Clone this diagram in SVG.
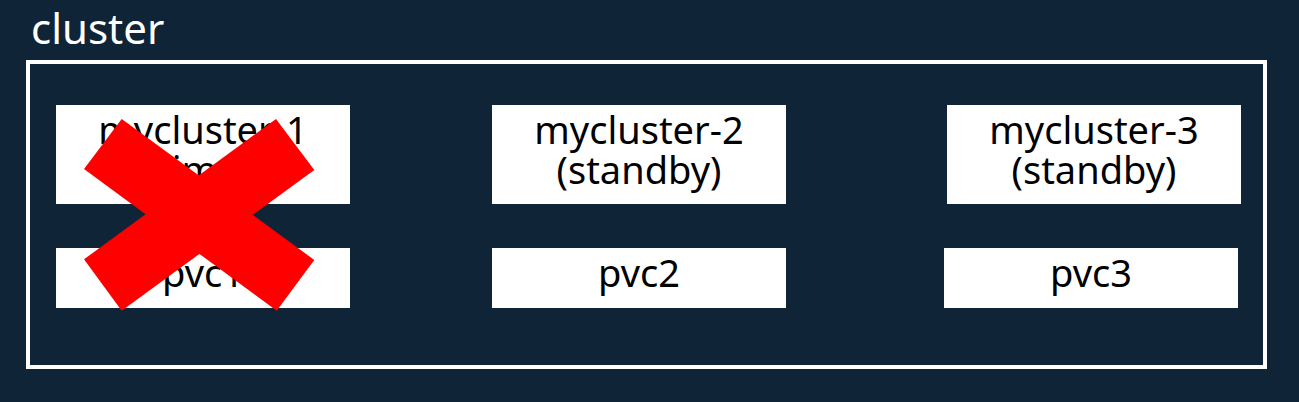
<svg xmlns="http://www.w3.org/2000/svg" width="1299" height="402" viewBox="0 0 1299 402">
<style>
.box{fill:#ffffff}
.t{font-family:"Noto Sans","Lato",sans-serif;font-size:38px;fill:#000000;text-anchor:middle}
.title{font-family:"Noto Sans","Lato",sans-serif;font-size:42px;fill:#ffffff}
.x{fill:#ff0000}
</style>
<rect x="0" y="0" width="1299" height="402" fill="#0f2436"/>
<g id="cluster">
<text class="title" x="31" y="44">cluster</text>
<rect x="28" y="62" width="1237" height="305" fill="none" stroke="#ffffff" stroke-width="4"/>
</g>
<g id="mycluster-1">
<rect class="box" x="56" y="105" width="294" height="99"/>
<text class="t" x="203" y="144">mycluster-1</text>
<text class="t" x="203" y="184">(primary)</text>
</g>
<g id="pvc1">
<rect class="box" x="56" y="248" width="294" height="60"/>
<text class="t" x="203" y="287">pvc1</text>
</g>
<g id="mycluster-2">
<rect class="box" x="492" y="105" width="294" height="99"/>
<text class="t" x="639" y="144">mycluster-2</text>
<text class="t" x="639" y="184">(standby)</text>
</g>
<g id="pvc2">
<rect class="box" x="492" y="248" width="294" height="60"/>
<text class="t" x="639" y="287">pvc2</text>
</g>
<g id="mycluster-3">
<rect class="box" x="947" y="105" width="294" height="99"/>
<text class="t" x="1094" y="144">mycluster-3</text>
<text class="t" x="1094" y="184">(standby)</text>
</g>
<g id="pvc3">
<rect class="box" x="944" y="248" width="294" height="60"/>
<text class="t" x="1091" y="287">pvc3</text>
</g>
<g id="connectors"></g>
<g id="cross">
<polygon class="x" points="121.7,119 314.3,260 276.7,310.7 84,169"/>
<polygon class="x" points="276,119 314.3,170 121.7,310.7 84,259.3"/>
</g>
</svg>
